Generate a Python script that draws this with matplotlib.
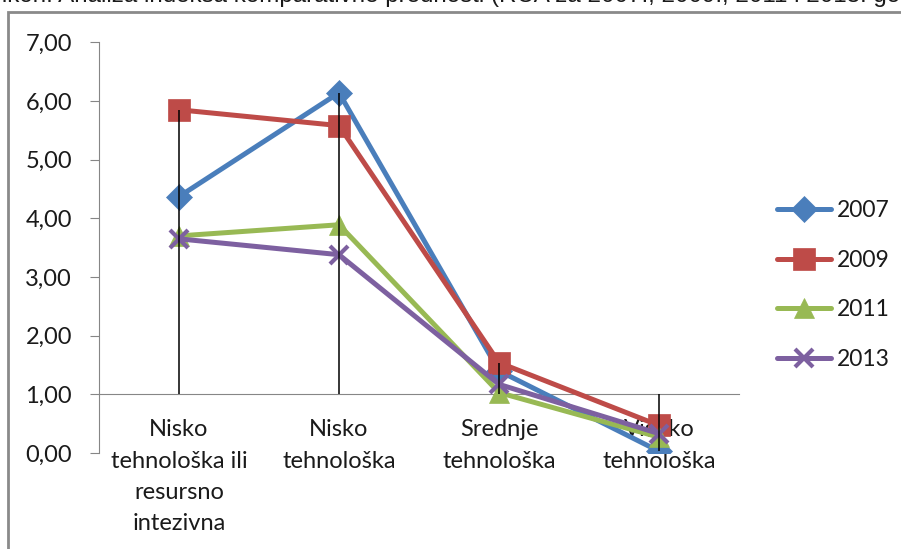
import matplotlib
matplotlib.use("Agg")
import matplotlib.pyplot as plt
from matplotlib.patches import Rectangle

categories = ["Nisko\ntehnološka ili\nresursno\nintezivna",
              "Nisko\ntehnološka",
              "Srednje\ntehnološka",
              "Visoko\ntehnološka"]
years = ["2007", "2009", "2011", "2013"]
v2007 = [4.37, 6.14, 1.40, 0.03]
v2009 = [5.85, 5.58, 1.54, 0.47]
v2011 = [3.70, 3.89, 1.03, 0.27]
v2013 = [3.65, 3.38, 1.17, 0.33]
yticks = [0, 1, 2, 3, 4, 5, 6, 7]
ytick_labels = ["0,00", "1,00", "2,00", "3,00", "4,00", "5,00", "6,00", "7,00"]
title = "Grafikon: Analiza indeksa komparativne prednosti (RCA za 2007., 2009., 2011 i 2013. godinu)"

series = [v2007, v2009, v2011, v2013]
colors = ["#4A7EBB", "#BE4B48", "#98B954", "#7D60A0"]
markers = ["D", "s", "^", "x"]
msizes = [13, 15.5, 15, 13]

W, H = 901, 549
fig = plt.figure(figsize=(W / 100, H / 100), dpi=100)
ax = fig.add_axes([99 / W, 96 / H, 640 / W, 410.7 / H])

x = list(range(len(categories)))
for vals, c, m, ms, lab in zip(series, colors, markers, msizes, years):
    ax.plot(x, vals, color=c, lw=3.6, marker=m, markersize=ms,
            markeredgewidth=(3 if m == "x" else 0.5), markeredgecolor=c,
            markerfacecolor=c, label=lab, zorder=3, solid_capstyle="round")

# drop lines from points to horizontal axis (crossing at 1)
for i in x:
    col = [s[i] for s in series] + [1.0]
    ax.vlines(i, min(col), max(col), color="black", lw=1.1, zorder=6)

ax.set_xlim(-0.5, len(categories) - 0.5)
ax.set_ylim(0, 7)
ax.set_yticks(yticks)
ax.set_yticklabels(ytick_labels)
ax.set_xticks(x)
ax.set_xticklabels(categories)

gray = "#868686"
for s in ["top", "right"]:
    ax.spines[s].set_visible(False)
ax.spines["left"].set_color(gray)
ax.spines["bottom"].set_color(gray)
ax.spines["bottom"].set_position(("data", 1))
ax.tick_params(axis="y", direction="out", length=6.5, color=gray, pad=13,
               labelsize=17, labelcolor="#1a1a1a")
ax.tick_params(axis="x", length=0, pad=18, labelsize=17, labelcolor="#1a1a1a")
for t in ax.get_xticklabels() + ax.get_yticklabels():
    t.set_fontfamily("Lato")
for t in ax.get_xticklabels():
    t.set_linespacing(1.6)

leg = fig.legend(loc="center left", bbox_to_anchor=(777 / W, 1 - 285 / H),
                 frameon=False, borderpad=0, borderaxespad=0,
                 handlelength=2.36, handletextpad=0.25, labelspacing=1.25,
                 prop={"family": "Lato", "size": 16.5})
for t in leg.get_texts():
    t.set_color("#1a1a1a")

# outer chart frame
fig.add_artist(Rectangle((8 / W, -0.1), 1.2, (1 - 12 / H) + 0.1,
                         transform=fig.transFigure, fill=False,
                         ec="#8a8a8a", lw=2))

# cut-off caption at the top
renderer = fig.canvas.get_renderer()
probe = fig.text(0, 0, "ikon: Analiza indeksa komparativne prednosti (RCA za 2007., 2009., 2011 i 2013. g",
                 family="Liberation Sans", size=10)
w10 = probe.get_window_extent(renderer).width
probe.remove()
fs = 10 * 888 / w10
probe = fig.text(0, 0, "Graf", family="Liberation Sans", size=fs)
wg = probe.get_window_extent(renderer).width
probe.remove()
fig.text((2 - wg) / W, 1 - 2 / H, title, family="Liberation Sans", size=fs,
         va="baseline", ha="left", color="#1a1a1a")

fig.savefig("out.png", dpi=100)
